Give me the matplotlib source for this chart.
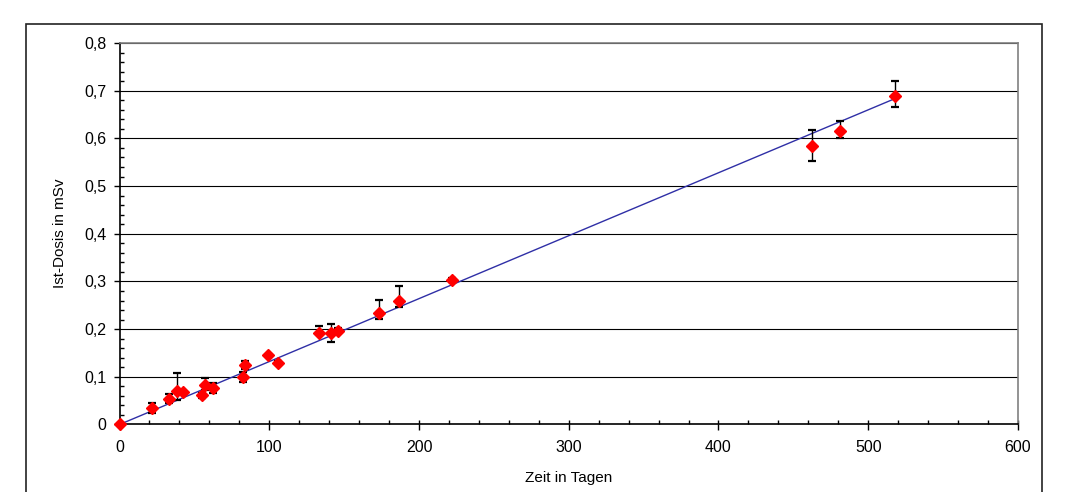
#!/usr/bin/env python3

import matplotlib
matplotlib.use('Agg')
import matplotlib.pyplot as plt
from matplotlib.patches import Rectangle
from matplotlib.ticker import MultipleLocator, FuncFormatter

# Messwerte: Zeit in Tagen, Ist-Dosis in mSv, Fehler nach unten/oben
days = [0, 21.9, 33.3, 38.2, 42.6, 54.9, 57.1, 62.2, 82.3, 83.8, 99.4, 105.6,
        133.2, 141.0, 146.1, 173.3, 186.6, 221.8, 462.2, 481.1, 517.9]
dose = [0, 0.035, 0.053, 0.070, 0.069, 0.062, 0.083, 0.077, 0.100, 0.125, 0.146, 0.130,
        0.191, 0.191, 0.197, 0.234, 0.260, 0.303, 0.584, 0.616, 0.689]
err_low = [0, 0.010, 0.008, 0.019, 0, 0.006, 0.011, 0.011, 0.011, 0.008, 0, 0.004,
           0.002, 0.019, 0.005, 0.013, 0.014, 0.004, 0.032, 0.016, 0.023]
err_high = [0, 0.010, 0.012, 0.037, 0, 0.005, 0.014, 0.009, 0.011, 0.008, 0, 0.004,
            0.016, 0.019, 0.005, 0.027, 0.030, 0.005, 0.034, 0.021, 0.031]

# Ausgleichsgerade
fit_x = [0, 516]
fit_y = [0, 0.681]

x_ticks = [0, 100, 200, 300, 400, 500, 600]
y_ticks = [0, 0.1, 0.2, 0.3, 0.4, 0.5, 0.6, 0.7, 0.8]

plt.rcParams['font.family'] = ['Liberation Sans', 'DejaVu Sans']
plt.rcParams['font.size'] = 11

fig = plt.figure(figsize=(10.71, 4.92), dpi=100)
ax = fig.add_axes([0.1116, 0.1372, 0.8389, 0.7754])

# outer chart frame (cut off at the bottom like the original)
fig.patches.append(Rectangle((26 / 1071, -0.2), (1042 - 26) / 1071, 1.2 - 24 / 492,
                             transform=fig.transFigure, fill=False,
                             edgecolor='#222222', linewidth=1.2))

for y in y_ticks[1:]:
    ax.axhline(y, color='black', linewidth=0.8, zorder=1)

ax.plot(fit_x, fit_y, color='#2f2fa6', linewidth=1.0, zorder=2)
ax.errorbar(days, dose, yerr=[err_low, err_high], fmt='none', ecolor='black',
            elinewidth=1.0, capsize=2.8, capthick=1.6, zorder=3)
ax.plot(days, dose, linestyle='none', marker='D', markersize=5.8,
        color='#ff0000', markeredgecolor='#ff0000', zorder=4, clip_on=False)

ax.set_xlim(0, 600)
ax.set_ylim(0, 0.8)
ax.set_xticks(x_ticks)
ax.set_yticks(y_ticks)
ax.xaxis.set_minor_locator(MultipleLocator(20))
ax.yaxis.set_minor_locator(MultipleLocator(0.02))
ax.xaxis.remove_overlapping_locs = False

comma = FuncFormatter(lambda v, p: ('%g' % round(v, 2)).replace('.', ','))
ax.yaxis.set_major_formatter(comma)

ax.tick_params(axis='both', which='major', direction='out', length=4.5, width=1,
               color='black', labelsize=11.5)
ax.tick_params(axis='x', which='major', pad=7)
ax.tick_params(axis='y', which='major', pad=5)
ax.tick_params(axis='both', which='minor', direction='in', length=3, width=1, color='black')

for side in ['left', 'bottom']:
    ax.spines[side].set_color('black')
    ax.spines[side].set_linewidth(1.2)
for side in ['top', 'right']:
    ax.spines[side].set_color('#808080')
    ax.spines[side].set_linewidth(1.2)

ax.set_xlabel('Zeit in Tagen', fontsize=11, labelpad=11)
ax.set_ylabel('Ist-Dosis in mSv', fontsize=11, labelpad=12)

fig.savefig('out.png', dpi=100)
plt.close(fig)
